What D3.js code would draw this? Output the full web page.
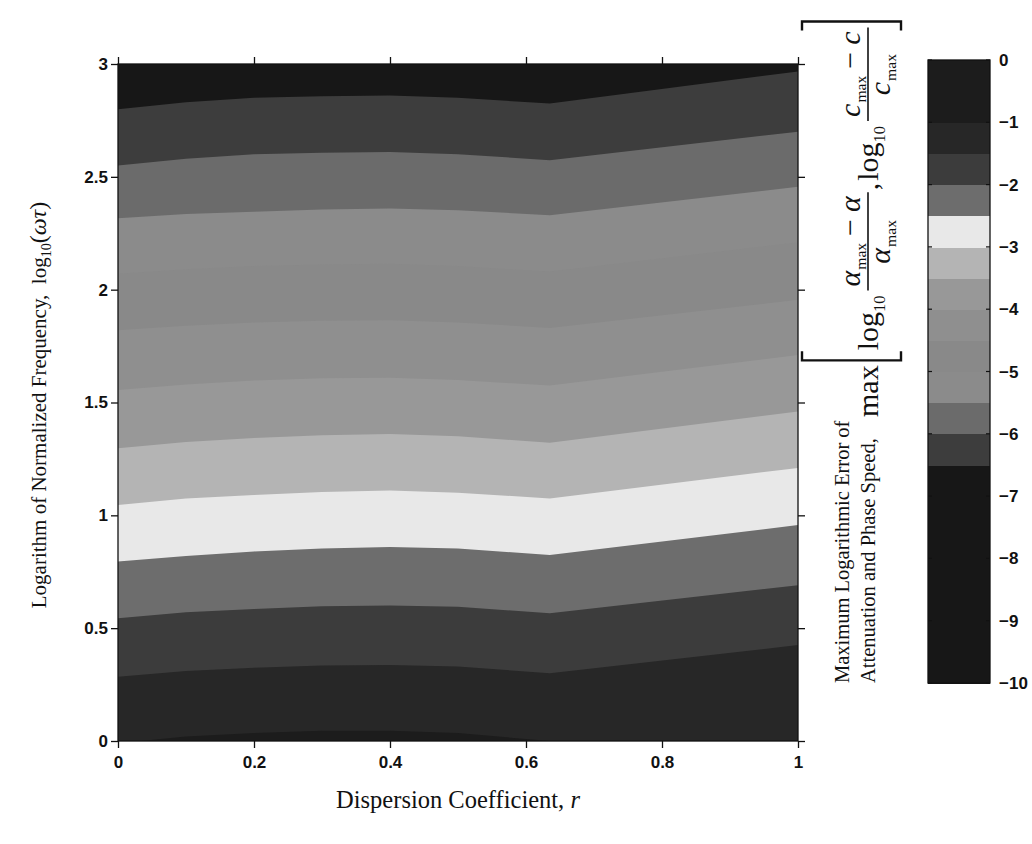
<!DOCTYPE html>
<html>
<head>
<meta charset="utf-8">
<script src="https://cdn.jsdelivr.net/npm/d3@7"></script>
<style>
  body { margin: 0; background: #fff; }
  svg { display: block; }
</style>
</head>
<body>
<svg id="chart" width="1032" height="844"></svg>
<script>
// Dispersion coefficient r at which each contour position is listed
const rNodes = [0, 0.1, 0.2, 0.3, 0.4, 0.5, 0.635, 1];

// Contour levels of the max log error (0.5 apart)
const contourLevels = [-6.5, -6, -5.5, -5, -4.5, -4, -3.5, -3, -2.5, -2, -1.5, -1];

// log10(omega*tau) where each contour level sits, one row per level, one entry per rNode
const contourLogFreq = [
  [2.800, 2.830, 2.850, 2.857, 2.860, 2.850, 2.825, 2.967],
  [2.550, 2.580, 2.600, 2.607, 2.610, 2.600, 2.574, 2.700],
  [2.316, 2.335, 2.345, 2.355, 2.360, 2.352, 2.330, 2.456],
  [2.070, 2.090, 2.105, 2.112, 2.115, 2.105, 2.080, 2.210],
  [1.820, 1.840, 1.855, 1.862, 1.865, 1.855, 1.830, 1.955],
  [1.555, 1.580, 1.598, 1.607, 1.610, 1.600, 1.575, 1.710],
  [1.297, 1.325, 1.343, 1.355, 1.360, 1.350, 1.322, 1.460],
  [1.046, 1.075, 1.090, 1.103, 1.110, 1.100, 1.075, 1.210],
  [0.795, 0.820, 0.840, 0.853, 0.860, 0.853, 0.824, 0.957],
  [0.544, 0.570, 0.585, 0.597, 0.600, 0.595, 0.566, 0.690],
  [0.285, 0.310, 0.325, 0.335, 0.337, 0.330, 0.300, 0.425],
  [-0.010, 0.020, 0.035, 0.045, 0.045, 0.035, 0.000, -0.060]
];

// Colour map: band edges and the grey used inside each band
const bandEdges = [-10, -9.5, -9, -8.5, -8, -7.5, -7, -6.5, -6, -5.5, -5,
                   -4.5, -4, -3.5, -3, -2.5, -2, -1.5, -1, -0.5, 0];
const bandGrays = ["#171717", "#171717", "#171717", "#171717", "#171717", "#171717",
                   "#171717", "#3d3d3d", "#6b6b6b", "#8b8b8b", "#898989", "#8f8f8f",
                   "#989898", "#b4b4b4", "#e8e8e8", "#6d6d6d", "#3c3c3c", "#272727",
                   "#1c1c1c", "#1c1c1c"];

const xTicks = [0, 0.2, 0.4, 0.6, 0.8, 1];
const yTicks = [0, 0.5, 1, 1.5, 2, 2.5, 3];
const cbTicks = [0, -1, -2, -3, -4, -5, -6, -7, -8, -9, -10];

const svg = d3.select("#chart");
const serif = "'Liberation Serif', 'Times New Roman', serif";
const sans = "'Liberation Sans', Arial, sans-serif";

const X = d3.scaleLinear().domain([0, 1]).range([118, 798]);
const Y = d3.scaleLinear().domain([0, 3]).range([741, 64]);
const bandColor = d3.scaleThreshold().domain(bandEdges.slice(1, -1)).range(bandGrays);

// ---- filled contour plot ----
svg.append("defs").append("clipPath").attr("id", "plotClip")
  .append("rect").attr("x", X(0)).attr("y", Y(3))
  .attr("width", X(1) - X(0)).attr("height", Y(0) - Y(3));

const plot = svg.append("g").attr("clip-path", "url(#plotClip)");
plot.append("rect")
  .attr("x", X(0)).attr("y", Y(3))
  .attr("width", X(1) - X(0)).attr("height", Y(0) - Y(3))
  .attr("fill", bandColor(contourLevels[0] - 0.25));

const fillBelow = d3.area()
  .x(d => X(d[0]))
  .y0(Y(-0.2))
  .y1(d => Y(d[1]));

contourLevels.forEach((lev, i) => {
  const pts = rNodes.map((r, j) => [r, contourLogFreq[i][j]]);
  plot.append("path")
    .attr("d", fillBelow(pts))
    .attr("fill", bandColor(lev + 0.25));
});

// frame
svg.append("rect")
  .attr("x", X(0)).attr("y", Y(3))
  .attr("width", X(1) - X(0)).attr("height", Y(0) - Y(3))
  .attr("fill", "none").attr("stroke", "#111").attr("stroke-width", 1.3);

// ---- axes ----
const fmt = d3.format("~g");
function styleAxis(g) {
  g.select(".domain").remove();
  g.selectAll(".tick line").attr("stroke", "#111").attr("stroke-width", 1.3);
  g.selectAll(".tick text")
    .attr("fill", "#111")
    .style("font-family", sans)
    .style("font-weight", "bold")
    .style("font-size", "17px");
}
svg.append("g").attr("transform", `translate(0,${Y(0)})`)
  .call(d3.axisBottom(X).tickValues(xTicks).tickSize(7).tickPadding(8).tickFormat(fmt))
  .call(styleAxis);
svg.append("g").attr("transform", `translate(0,${Y(3)})`)
  .call(d3.axisTop(X).tickValues(xTicks).tickSize(7).tickFormat(""))
  .call(styleAxis);
svg.append("g").attr("transform", `translate(${X(0)},0)`)
  .call(d3.axisLeft(Y).tickValues(yTicks).tickSize(7).tickPadding(3).tickFormat(fmt))
  .call(styleAxis);
svg.append("g").attr("transform", `translate(${X(1)},0)`)
  .call(d3.axisRight(Y).tickValues(yTicks).tickSize(7).tickFormat(""))
  .call(styleAxis);

// ---- axis titles ----
const xTitle = svg.append("text")
  .attr("x", 458).attr("y", 808)
  .attr("text-anchor", "middle")
  .style("font-family", serif).style("font-size", "24.5px").attr("fill", "#111");
xTitle.append("tspan").text("Dispersion Coefficient, ");
xTitle.append("tspan").style("font-style", "italic").text("r");

const yTitle = svg.append("text")
  .attr("transform", "translate(46,405) rotate(-90)")
  .attr("text-anchor", "middle")
  .style("font-family", serif).style("font-size", "21px").attr("fill", "#111");
yTitle.append("tspan").text("Logarithm of Normalized Frequency,\u00a0\u00a0log");
yTitle.append("tspan").attr("dy", 5).style("font-size", "14px").text("10");
yTitle.append("tspan").attr("dy", -5).style("font-size", "24px").text("(");
yTitle.append("tspan").style("font-style", "italic").style("font-size", "24px").text("ωτ");
yTitle.append("tspan").style("font-size", "24px").text(")");

// ---- colour bar ----
const CB = d3.scaleLinear().domain([-10, 0]).range([683, 60]);
const cbX = 928, cbW = 62;
const cb = svg.append("g");
d3.range(bandGrays.length).forEach(i => {
  cb.append("rect")
    .attr("x", cbX).attr("y", CB(bandEdges[i + 1]))
    .attr("width", cbW).attr("height", CB(bandEdges[i]) - CB(bandEdges[i + 1]) + 0.6)
    .attr("fill", bandGrays[i])
    .attr("shape-rendering", "crispEdges");
});
cb.append("rect")
  .attr("x", cbX).attr("y", CB(0)).attr("width", cbW).attr("height", CB(-10) - CB(0))
  .attr("fill", "none").attr("stroke", "#111").attr("stroke-width", 1.3);
cbTicks.forEach(t => {
  cb.append("line").attr("x1", cbX).attr("x2", cbX + 4)
    .attr("y1", CB(t)).attr("y2", CB(t)).attr("stroke", "#111").attr("stroke-width", 1.2);
  cb.append("line").attr("x1", cbX + cbW - 4).attr("x2", cbX + cbW)
    .attr("y1", CB(t)).attr("y2", CB(t)).attr("stroke", "#111").attr("stroke-width", 1.2);
  cb.append("text")
    .attr("x", cbX + cbW + 9).attr("y", CB(t) + 6)
    .style("font-family", sans).style("font-weight", "bold").style("font-size", "17px")
    .attr("fill", "#111")
    .text(t === 0 ? "0" : "\u2212" + Math.abs(t));
});

// ---- colour bar title ----
svg.append("text")
  .attr("transform", "translate(849,683) rotate(-90)")
  .style("font-family", serif).style("font-size", "20.5px").attr("fill", "#111")
  .text("Maximum Logarithmic Error of");
svg.append("text")
  .attr("transform", "translate(875,683) rotate(-90)")
  .style("font-family", serif).style("font-size", "20.5px").attr("fill", "#111")
  .text("Attenuation and Phase Speed,");

// max[ log10 (a_max - a)/a_max , log10 (c_max - c)/c_max ]
const F = 30;
const mg = svg.append("g").attr("transform", "translate(878,417) rotate(-90)");
function piece(txt, x, y, size, italic) {
  const t = mg.append("text").attr("x", x).attr("y", y)
    .style("font-family", serif).style("font-size", size + "px")
    .style("font-style", italic ? "italic" : "normal")
    .attr("fill", "#111").text(txt);
  return t.node().getComputedTextLength();
}
function symbolWithSub(sym, x, y) {
  let w = piece(sym, x, y, F, true);
  w += piece("max", x + w + 1, y + 6, F * 0.52, false);
  return w + 1;
}
function measure(txt, size, italic) {
  const t = mg.append("text").style("font-family", serif).style("font-size", size + "px")
    .style("font-style", italic ? "italic" : "normal").text(txt);
  const w = t.node().getComputedTextLength();
  t.remove();
  return w;
}
function bracket(x, open) {
  const top = -76, bot = 23, serifLen = 9;
  const dx = open ? serifLen : -serifLen;
  mg.append("path")
    .attr("d", `M${x + dx},${top} L${x},${top} L${x},${bot} L${x + dx},${bot}`)
    .attr("fill", "none").attr("stroke", "#111").attr("stroke-width", 2.4);
}
function fraction(x, sym) {
  const numY = -18, denY = 12, barY = -10;
  let w = symbolWithSub(sym, x + 4, numY);
  w += 7;
  w += piece("\u2212", x + 4 + w, numY, F, false);
  w += 7;
  w += piece(sym, x + 4 + w, numY, F, true);
  const total = w + 8;
  mg.append("line").attr("x1", x).attr("x2", x + total)
    .attr("y1", barY).attr("y2", barY).attr("stroke", "#111").attr("stroke-width", 1.6);
  const dW = measure(sym, F, true) + measure("max", F * 0.52, false) + 2;
  symbolWithSub(sym, x + (total - dW) / 2, denY);
  return total;
}

let cx = 0;
cx += piece("max", cx, 0, F, false) + 3;
bracket(cx + 2, true);
cx += 12;
cx += piece("log", cx, 0, F, false);
cx += piece("10", cx, 7, F * 0.55, false) + 5;
cx += fraction(cx, "α") + 2;
cx += piece(",", cx, 0, F, false) + 2;
cx += piece("log", cx, 0, F, false);
cx += piece("10", cx, 7, F * 0.55, false) + 5;
cx += fraction(cx, "c") + 6;
bracket(cx, false);
</script>
</body>
</html>
